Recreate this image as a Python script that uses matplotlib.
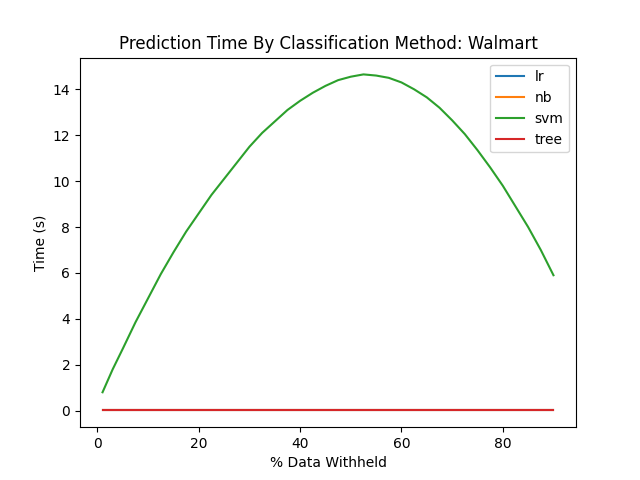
import matplotlib
matplotlib.use('Agg')
from matplotlib import pyplot as plt

withheld = [1, 3, 5, 7.5, 10, 12.5, 15, 17.5, 20, 22.5, 25, 27.5, 30, 32.5, 35,
            37.5, 40, 42.5, 45, 47.5, 50, 52.5, 55, 57.5, 60, 62.5, 65, 67.5,
            70, 72.5, 75, 77.5, 80, 82.5, 85, 87.5, 90]
svm_time = [0.8, 1.8, 2.7, 3.85, 4.9, 5.95, 6.9, 7.8, 8.6, 9.4, 10.1, 10.8,
            11.5, 12.1, 12.6, 13.1, 13.5, 13.85, 14.15, 14.4, 14.55, 14.65, 14.6,
            14.5, 14.3, 14.0, 13.65, 13.2, 12.65, 12.05, 11.35, 10.6, 9.8,
            8.9, 8.0, 7.0, 5.9]
lr_time = [0.01] * len(withheld)
nb_time = [0.02] * len(withheld)
tree_time = [0.01] * len(withheld)

fig, ax = plt.subplots(figsize=(6.4, 4.8), dpi=100)
ax.plot(withheld, lr_time, label='lr')
ax.plot(withheld, nb_time, label='nb')
ax.plot(withheld, svm_time, label='svm')
ax.plot(withheld, tree_time, label='tree')
ax.set_title('Prediction Time By Classification Method: Walmart')
ax.set_xlabel('% Data Withheld')
ax.set_ylabel('Time (s)')
ax.legend(loc='upper right')
fig.savefig('out.png')
